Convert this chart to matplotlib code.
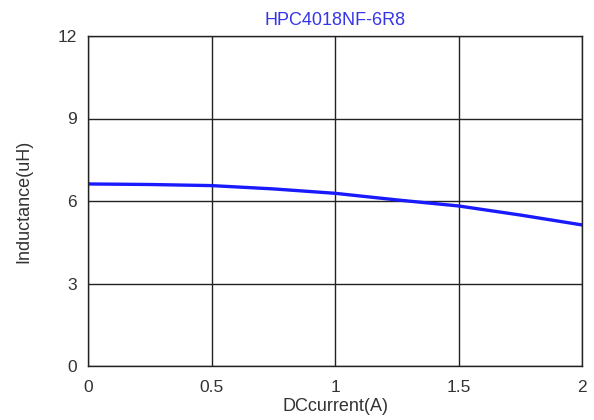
import matplotlib
matplotlib.use("Agg")
import matplotlib.pyplot as plt

plt.rcParams['font.family'] = ['Liberation Sans', 'DejaVu Sans']

title = "HPC4018NF-6R8"
x_label = "DCcurrent(A)"
y_label = "Inductance(uH)"
current = [0.0, 0.25, 0.5, 0.75, 1.0, 1.25, 1.5, 1.75, 2.0]
inductance = [6.62, 6.60, 6.56, 6.44, 6.28, 6.04, 5.82, 5.49, 5.13]
x_ticks = [0, 0.5, 1, 1.5, 2]
x_tick_labels = ["0", "0.5", "1", "1.5", "2"]
y_ticks = [0, 3, 6, 9, 12]

fig = plt.figure(figsize=(5.94, 4.2), dpi=100)
ax = fig.add_axes([88/594, 54/420, 494/594, 330/420])
ax.plot(current, inductance, color='#1a1aff', lw=2.4, solid_capstyle='round')
ax.set_xlim(0, 2)
ax.set_ylim(0, 12)
ax.set_xticks(x_ticks)
ax.set_xticklabels(x_tick_labels)
ax.set_yticks(y_ticks)
ax.grid(True, color='#222222', lw=1.0)
ax.set_axisbelow(True)
for s in ax.spines.values():
    s.set_color('#222222')
    s.set_linewidth(1.0)
ax.tick_params(length=0, labelsize=12.5, colors='#333333')
ax.tick_params(axis='y', pad=8)
ax.tick_params(axis='x', pad=10)
ax.set_title(title, color='#3535e8', fontsize=13, pad=8)
ax.set_xlabel(x_label, fontsize=13, color='#333333', labelpad=2)
ax.set_ylabel(y_label, fontsize=13, color='#333333', labelpad=18)
fig.savefig("out.png", dpi=100)
